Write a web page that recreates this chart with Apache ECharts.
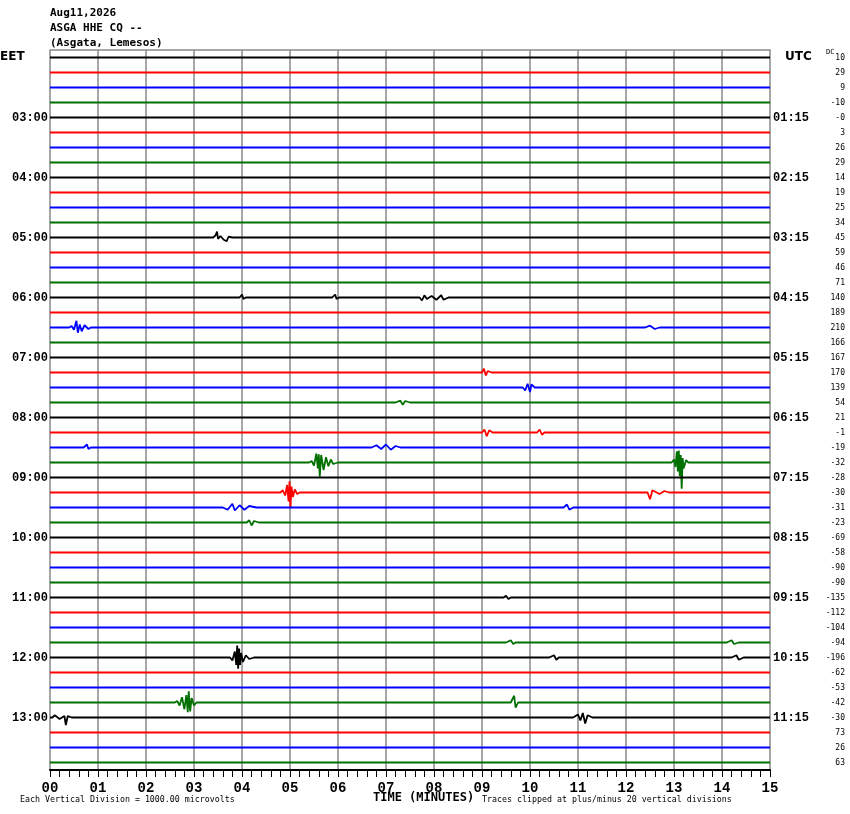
<!DOCTYPE html>
<html>
<head>
<meta charset="utf-8">
<script src="https://cdn.jsdelivr.net/npm/echarts@6/dist/echarts.min.js"></script>
<style>html,body{margin:0;padding:0;background:#fff}#c{width:850px;height:814px}</style>
</head>
<body>
<div id="c"></div>
<script>
// ---------- data ----------
const titleLines = ['Aug11,2026', 'ASGA HHE CQ --', '(Asgata, Lemesos)'];
const traceColors = ['#000000', '#ff0000', '#0000ff', '#007000'];
const minuteLabels = ['00','01','02','03','04','05','06','07','08','09','10','11','12','13','14','15'];
const eetLabels = ['', '', '', '', '03:00', '', '', '', '04:00', '', '', '', '05:00', '', '', '', '06:00', '', '', '', '07:00', '', '', '',
  '08:00', '', '', '', '09:00', '', '', '', '10:00', '', '', '', '11:00', '', '', '', '12:00', '', '', '', '13:00', '', '', ''];
const utcLabels = ['', '', '', '', '01:15', '', '', '', '02:15', '', '', '', '03:15', '', '', '', '04:15', '', '', '', '05:15', '', '', '',
  '06:15', '', '', '', '07:15', '', '', '', '08:15', '', '', '', '09:15', '', '', '', '10:15', '', '', '', '11:15', '', '', ''];
const dcValues = ['10', '29', '9', '-10', '-0', '3', '26', '29', '14', '19', '25', '34', '45', '59', '46', '71',
  '140', '189', '210', '166', '167', '170', '139', '54', '21', '-1', '-19', '-32', '-28', '-30', '-31', '-23',
  '-69', '-58', '-90', '-90', '-135', '-112', '-104', '-94', '-196', '-62', '-53', '-42', '-30', '73', '26', '63'];

// event samples: [minute, displacement in trace spacings (positive = up)]
const row12_a = [[3.40,0],[3.45,0.15],[3.48,0.4],[3.50,-0.1],[3.55,0.1],[3.62,-0.15],[3.68,-0.25],[3.72,0.05],[3.80,0]];
const row16_a = [[3.95,0],[4.0,0.2],[4.03,-0.1],[4.08,0]];
const row16_b = [[5.88,0],[5.94,0.2],[5.97,-0.1],[6.02,0]];
const row16_c = [[7.70,0],[7.75,-0.2],[7.80,0.15],[7.85,-0.1],[7.95,0.1],[8.05,-0.15],[8.15,0.15],[8.20,-0.15],[8.30,0]];
const row18_a = [[0.40,0],[0.45,0.1],[0.50,-0.15],[0.55,0.45],[0.58,-0.35],[0.62,0.2],[0.66,-0.25],[0.72,0.15],[0.80,-0.1],[0.85,0]];
const row18_b = [[12.4,0],[12.5,0.12],[12.6,-0.1],[12.7,0]];
const row21_a = [[9.00,0],[9.04,0.25],[9.08,-0.2],[9.12,0.1],[9.20,0]];
const row22_a = [[9.85,0],[9.90,-0.2],[9.95,0.25],[10.0,-0.3],[10.03,0.2],[10.10,0]];
const row23_a = [[7.20,0],[7.30,0.12],[7.35,-0.15],[7.40,0.1],[7.50,0]];
const row25_a = [[9.00,0],[9.05,0.2],[9.10,-0.25],[9.15,0.15],[9.22,0]];
const row25_b = [[10.15,0],[10.20,0.2],[10.25,-0.15],[10.30,0]];
const row26_a = [[0.70,0],[0.77,0.2],[0.80,-0.1],[0.85,0]];
const row26_b = [[6.70,0],[6.80,0.15],[6.90,-0.1],[7.00,0.2],[7.10,-0.15],[7.20,0.1],[7.30,0]];
const row27_a = [[5.40,0],[5.45,0.1],[5.50,-0.2],[5.55,0.6],[5.58,-0.4],[5.60,0.55],[5.62,-0.95],[5.65,0.5],[5.70,-0.5],[5.75,0.35],[5.80,-0.25],[5.85,0.2],[5.90,-0.1],[6.00,0]];
const row27_b = [[12.95,0],[13.0,0.2],[13.03,-0.3],[13.06,0.75],[13.08,-0.6],[13.10,0.8],[13.12,-0.9],[13.14,0.5],[13.16,-1.75],[13.18,0.3],[13.20,-0.4],[13.25,0.15],[13.30,0]];
const row29_a = [[4.80,0],[4.85,0.15],[4.90,-0.2],[4.94,0.5],[4.97,-0.6],[4.99,0.75],[5.01,-1.05],[5.03,0.4],[5.06,-0.3],[5.10,0.2],[5.15,-0.1],[5.20,0]];
const row29_b = [[12.45,0],[12.50,-0.45],[12.55,0.15],[12.70,-0.1],[12.80,0.1],[12.90,0]];
const row30_a = [[3.60,0],[3.70,-0.15],[3.80,0.25],[3.85,-0.2],[3.95,0.15],[4.05,-0.15],[4.15,0.1],[4.30,0]];
const row30_b = [[10.70,0],[10.77,0.2],[10.82,-0.15],[10.90,0]];
const row31_a = [[4.10,0],[4.15,0.15],[4.20,-0.2],[4.25,0.1],[4.35,0]];
const row36_a = [[9.45,0],[9.50,0.12],[9.55,-0.1],[9.60,0]];
const row39_a = [[9.50,0],[9.60,0.15],[9.65,-0.1],[9.70,0]];
const row39_b = [[14.10,0],[14.20,0.15],[14.25,-0.1],[14.35,0]];
const row40_a = [[3.75,0],[3.80,-0.2],[3.85,0.4],[3.88,-0.5],[3.90,0.8],[3.92,-0.75],[3.94,0.6],[3.96,-0.5],[3.98,0.3],[4.02,-0.3],[4.08,0.15],[4.15,-0.1],[4.25,0]];
const row40_b = [[10.40,0],[10.50,0.15],[10.55,-0.15],[10.60,0]];
const row40_c = [[14.20,0],[14.30,0.15],[14.35,-0.15],[14.45,0]];
const row43_a = [[2.60,0],[2.65,0.1],[2.70,-0.2],[2.75,0.35],[2.80,-0.45],[2.84,0.5],[2.87,-0.65],[2.89,0.75],[2.92,-0.6],[2.95,0.3],[3.00,-0.2],[3.05,0]];
const row43_b = [[9.60,0],[9.67,0.45],[9.70,-0.35],[9.75,0]];
const row44_a = [[0.05,0],[0.10,0.15],[0.20,-0.1],[0.30,0.1],[0.33,-0.5],[0.37,0.1],[0.45,0]];
const row44_b = [[10.90,0],[11.00,0.2],[11.05,-0.2],[11.10,0.3],[11.15,-0.4],[11.20,0.15],[11.30,0]];

const events = [
  [12, row12_a], [16, row16_a], [16, row16_b], [16, row16_c], [18, row18_a], [18, row18_b],
  [21, row21_a], [22, row22_a], [23, row23_a], [25, row25_a], [25, row25_b], [26, row26_a], [26, row26_b],
  [27, row27_a], [27, row27_b], [29, row29_a], [29, row29_b], [30, row30_a], [30, row30_b], [31, row31_a],
  [36, row36_a], [39, row39_a], [39, row39_b], [40, row40_a], [40, row40_b], [40, row40_c],
  [43, row43_a], [43, row43_b], [44, row44_a], [44, row44_b]
];

// ---------- build ----------
const nRows = dcValues.length;
const rowCats = dcValues.map((_, i) => 'r' + i);
const series = [];
for (let i = 0; i < nRows; i++) {
  const evs = events.filter(e => e[0] === i).map(e => e[1]).sort((a, b) => a[0][0] - b[0][0]);
  const pts = [[0, i]];
  evs.forEach(ev => ev.forEach(p => pts.push([p[0], i - p[1]])));
  pts.push([15, i]);
  series.push({
    type: 'line', xAxisIndex: 0, yAxisIndex: 0, data: pts, showSymbol: false, silent: true,
    lineStyle: { color: traceColors[i % 4], width: 1.8 }, z: 3
  });
}

const monoB = 'Liberation Mono';
const sansMono = 'DejaVu Sans Mono';
const chart = echarts.init(document.getElementById('c'), null, { renderer: 'canvas' });
chart.setOption({
  animation: false,
  backgroundColor: '#ffffff',
  title: {
    text: titleLines.join('\n'), left: 45, top: 1,
    textStyle: { fontFamily: sansMono, fontWeight: 'bold', fontSize: 11, lineHeight: 15, color: '#000' }
  },
  grid: { left: 50, right: 80, top: 50, bottom: 44 },
  xAxis: [
    {
      type: 'value', min: 0, max: 15, interval: 1, position: 'bottom',
      axisLine: { show: true, onZero: false, lineStyle: { color: '#000', width: 2 } },
      axisTick: { show: true, length: 7, lineStyle: { color: '#000', width: 1 } },
      minorTick: { show: true, splitNumber: 5, length: 7, lineStyle: { color: '#000', width: 1 } },
      splitLine: { show: true, lineStyle: { color: '#8a8a8a', width: 1.5 } },
      axisLabel: {
        margin: 11, fontFamily: monoB, fontWeight: 'bold', fontSize: 14, color: '#000',
        formatter: v => minuteLabels[Math.round(v)]
      }
    },
    {
      type: 'value', min: 0, max: 15, position: 'top',
      axisLine: { show: true, onZero: false, lineStyle: { color: '#8a8a8a', width: 1.5 } },
      axisTick: { show: false }, axisLabel: { show: false }, splitLine: { show: false }
    }
  ],
  yAxis: [
    {
      type: 'value', min: -0.5, max: nRows - 0.5, inverse: true, show: false
    },
    {
      type: 'category', data: rowCats, inverse: true, position: 'left',
      axisLine: { show: false }, axisTick: { show: false }, splitLine: { show: false },
      axisLabel: {
        interval: 0, margin: 2, fontFamily: monoB, fontWeight: 'bold', fontSize: 12, color: '#000',
        formatter: (v, i) => eetLabels[i]
      }
    },
    {
      type: 'category', data: rowCats, inverse: true, position: 'right',
      axisLine: { show: false }, axisTick: { show: false }, splitLine: { show: false },
      axisLabel: {
        interval: 0, margin: 3, fontFamily: monoB, fontWeight: 'bold', fontSize: 12, color: '#000',
        formatter: (v, i) => utcLabels[i]
      }
    },
    {
      type: 'category', data: rowCats, inverse: true, position: 'right',
      axisLine: { show: false }, axisTick: { show: false }, splitLine: { show: false },
      axisLabel: {
        interval: 0, margin: 75, align: 'right', fontFamily: sansMono, fontSize: 8, color: '#000',
        formatter: (v, i) => dcValues[i]
      }
    }
  ],
  graphic: [
    { type: 'text', left: 0, top: 51, style: { text: 'EET', font: 'bold 12px "DejaVu Sans"', fill: '#000' } },
    { type: 'text', left: 785, top: 51, style: { text: 'UTC', font: 'bold 12px "DejaVu Sans"', fill: '#000' } },
    { type: 'text', left: 826, top: 49, style: { text: 'DC', font: '7px "DejaVu Sans Mono"', fill: '#000' } },
    { type: 'text', left: 20, top: 796, style: { text: 'Each Vertical Division = 1000.00 microvolts', font: '8.3px "DejaVu Sans Mono"', fill: '#000' } },
    { type: 'text', left: 373, top: 792, style: { text: 'TIME (MINUTES)', font: 'bold 12px "DejaVu Sans Mono"', fill: '#000' } },
    { type: 'text', left: 482, top: 796, style: { text: 'Traces clipped at plus/minus 20 vertical divisions', font: '8.3px "DejaVu Sans Mono"', fill: '#000' } }
  ],
  series: series
});
</script>
</body>
</html>
